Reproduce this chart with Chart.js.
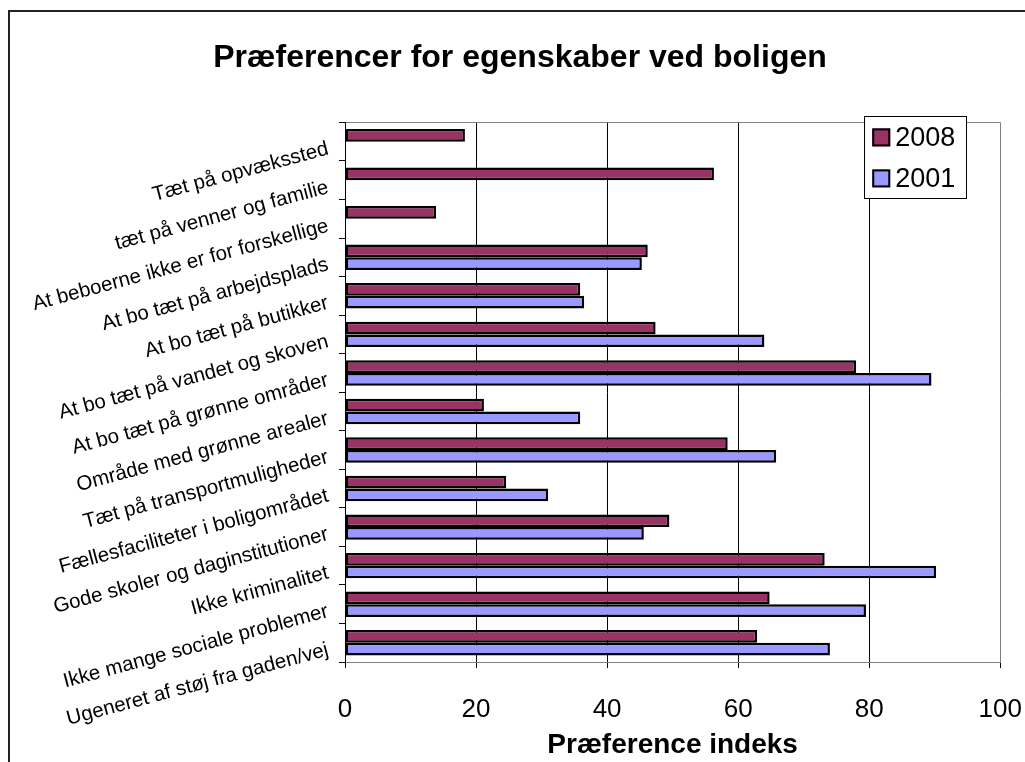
<!DOCTYPE html>
<html>
<head>
<meta charset="utf-8">
<script src="https://cdn.jsdelivr.net/npm/chart.js@4.4.0/dist/chart.umd.min.js"></script>
<style>
  html, body { margin: 0; padding: 0; background: #fff; overflow: hidden; }
  #frame { position: absolute; left: 8px; top: 10px; width: 1100px; height: 900px; border: 2px solid #222; }
  #wrap { position: absolute; left: 0; top: 0; width: 1015px; height: 750px; }
</style>
</head>
<body>
<div id="frame"><div id="wrap"><canvas id="prefChart"></canvas></div></div>
<script>
// data
const chartTitle = "Præferencer for egenskaber ved boligen";
const axisTitle = "Præference indeks";
const categories = [
  "Tæt på opvækssted",
  "tæt på venner og familie",
  "At beboerne ikke er for forskellige",
  "At bo tæt på arbejdsplads",
  "At bo tæt på butikker",
  "At bo tæt på vandet og skoven",
  "At bo tæt på grønne områder",
  "Område med grønne arealer",
  "Tæt på transportmuligheder",
  "Fællesfaciliteter i boligområdet",
  "Gode skoler og daginstitutioner",
  "Ikke kriminalitet",
  "Ikke mange sociale problemer",
  "Ugeneret af støj fra gaden/vej",
];
const seriesNames = ["2008", "2001"];
const values2008 = [18.3, 56.3, 13.9, 46.2, 35.9, 47.4, 78.0, 21.2, 58.4, 24.6, 49.5, 73.2, 64.8, 62.9];
const values2001 = [null, null, null, 45.3, 36.5, 64.0, 89.5, 35.9, 65.8, 31.0, 45.6, 90.2, 79.5, 74.0];
const xMin = 0;
const xMax = 100;
const xStep = 20;

Chart.defaults.font.family = "'Liberation Sans', Arial, sans-serif";
Chart.defaults.color = "#000";

// legend box sitting over the top right corner of the plot, like the excel one
const boxLegend = {
  id: "boxLegend",
  afterDraw(chart) {
    const { ctx, chartArea } = chart;
    const sw = 18;
    const rowH = 41;
    ctx.save();
    ctx.font = "27px 'Liberation Sans', Arial, sans-serif";
    const textW = Math.max(...chart.data.datasets.map((d) => ctx.measureText(d.label).width));
    const w = 8 + sw + 5 + textW + 11;
    const h = rowH * chart.data.datasets.length;
    const left = chartArea.right - 34 - w;
    const top = chartArea.top - 6;
    ctx.fillStyle = "#fff";
    ctx.fillRect(left, top, w, h);
    ctx.strokeStyle = "#000";
    ctx.lineWidth = 1;
    ctx.strokeRect(Math.round(left) + 0.5, Math.round(top) + 0.5, Math.round(w), Math.round(h));
    chart.data.datasets.forEach((d, i) => {
      const cy = top + 21 + i * rowH;
      ctx.fillStyle = d.backgroundColor;
      ctx.fillRect(left + 8, cy - sw / 2, sw, sw);
      ctx.lineWidth = 2;
      ctx.strokeStyle = "#000";
      ctx.strokeRect(left + 9, cy - sw / 2 + 1, sw - 2, sw - 2);
      ctx.fillStyle = "#000";
      ctx.textBaseline = "middle";
      ctx.fillText(d.label, left + 8 + sw + 5, cy + 1);
    });
    ctx.restore();
  },
};

const ctx = document.getElementById("prefChart").getContext("2d");
const prefChart = new Chart(ctx, {
  type: "bar",
  data: {
    labels: categories,
    datasets: [
      {
        label: seriesNames[0],
        data: values2008,
        backgroundColor: "#993366",
        borderColor: "#000",
        borderWidth: 2.5,
        borderSkipped: false,
        categoryPercentage: 0.66,
        barPercentage: 1.0,
      },
      {
        label: seriesNames[1],
        data: values2001,
        backgroundColor: "#9999FF",
        borderColor: "#000",
        borderWidth: 2.5,
        borderSkipped: false,
        categoryPercentage: 0.66,
        barPercentage: 1.0,
      },
    ],
  },
  options: {
    indexAxis: "y",
    responsive: true,
    maintainAspectRatio: false,
    animation: false,
    layout: { padding: { left: 5, right: 0, top: 0, bottom: 0 } },
    plugins: {
      legend: { display: false },
      tooltip: { enabled: false },
      title: {
        display: true,
        text: chartTitle,
        color: "#000",
        font: { size: 32, weight: "bold" },
        padding: { top: 27, bottom: 45 },
      },
    },
    scales: {
      x: {
        min: xMin,
        max: xMax,
        // tall line height pushes the numbers down without a big tick padding
        ticks: { stepSize: xStep, color: "#000", font: { size: 26, lineHeight: 3 }, padding: 3 },
        grid: {
          color: (c) => (c.tick && c.tick.value === xMax ? "#808080" : "#000"),
          tickColor: "#000",
          tickLength: 6,
        },
        border: { color: "#808080" },
        title: {
          display: true,
          text: axisTitle,
          color: "#000",
          font: { size: 28, weight: "bold" },
          padding: 0,
        },
        afterFit: (s) => {
          s.height = 100;
        },
      },
      y: {
        ticks: {
          color: "#000",
          font: { size: 20.5 },
          minRotation: 15,
          maxRotation: 15,
          padding: 11,
          labelOffset: 7,
          autoSkip: false,
        },
        grid: {
          offset: true,
          drawOnChartArea: true,
          // only the top edge of the plot gets a (grey) line
          color: (c) => (c.index === 0 ? "#808080" : "rgba(0,0,0,0)"),
          tickColor: "#000",
          tickLength: 6,
        },
        border: { color: "#000" },
        afterFit: (s) => {
          s.width = 330;
        },
      },
    },
  },
  plugins: [boxLegend],
});
</script>
</body>
</html>
